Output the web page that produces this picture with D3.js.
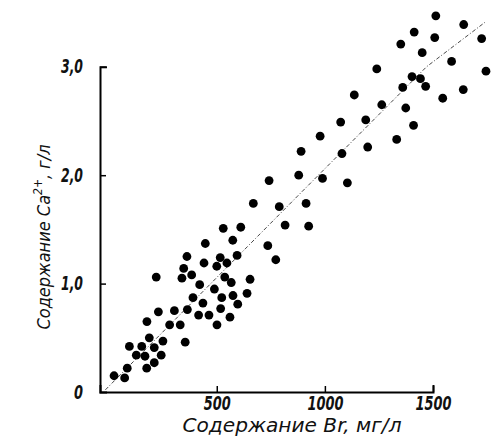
<!DOCTYPE html>
<html>
<head>
<meta charset="utf-8">
<script src="https://cdn.jsdelivr.net/npm/d3@7"></script>
<style>
  html, body { margin: 0; padding: 0; background: #fff; }
  svg { display: block; }
  .num { font-family: "DejaVu Sans Condensed", "DejaVu Sans", sans-serif; font-style: italic; font-weight: bold; font-size: 19px; fill: #111; }
  .ttl { font-family: "DejaVu Sans Condensed", "DejaVu Sans", sans-serif; font-style: italic; font-size: 19px; fill: #111; }
</style>
</head>
<body>
<div id="chart"></div>
<script>
// Bromide content, mg/l
const brValues = [669,789,816,530,611,574,447,736,362,594,516,773,441,500,547,347,220,339,384,537,
  567,654,421,489,640,390,575,523,436,597,230,304,364,518,416,464,561,177,282,331,
  501,188,251,354,96,153,211,128,168,243,211,176,86,25,74,742,913,925,879,989,
  1104,890,1079,1198,978,1073,1189,1332,1410,1136,1263,1374,1545,1640,1360,1403,1442,1466,1240,1745,
  1586,1450,1351,1508,1725,1413,1642,1513];
// Calcium content, g/l
const caValues = [1.74,1.71,1.54,1.51,1.52,1.40,1.37,1.35,1.25,1.26,1.24,1.22,1.19,1.16,1.19,1.14,1.06,1.05,1.08,1.06,
  1.01,1.04,0.99,0.95,0.91,0.87,0.89,0.87,0.82,0.81,0.74,0.75,0.76,0.77,0.71,0.71,0.69,0.65,0.62,0.62,
  0.62,0.50,0.47,0.46,0.42,0.42,0.41,0.34,0.33,0.34,0.27,0.22,0.22,0.15,0.13,1.95,1.74,1.53,2.00,1.97,
  1.93,2.22,2.20,2.26,2.36,2.49,2.51,2.33,2.46,2.74,2.65,2.62,2.71,2.79,2.81,2.91,2.89,2.82,2.98,2.96,
  3.05,3.13,3.21,3.27,3.26,3.32,3.39,3.47];
// Hand-drawn trend line through the cloud
const trendBr = [-15, 870, 1150, 1470, 1740];
const trendCa = [0.02, 1.80, 2.36, 3.00, 3.41];
// Axis ticks
const xTickValues = [500, 1000, 1500];
const yTickValues = [0, 1, 2, 3];
const yTickLabels = ["0", "1,0", "2,0", "3,0"];

const W = 504, H = 445;
const svg = d3.select("#chart").append("svg").attr("width", W).attr("height", H);

const x = d3.scaleLinear().domain([-40, 1500]).range([100, 433]);
const y = d3.scaleLinear().domain([0, 3]).range([392, 66.8]);

// narrow drafting-style numerals: fit each label to a fixed width per character
const labelWidth = s => [...s].reduce((w, c) => w + (c === "," ? 4 : 9), 0);

// trend line
const trend = trendBr.map((b, i) => [b, trendCa[i]]);
svg.append("path")
  .attr("d", d3.line().x(d => x(d[0])).y(d => y(d[1]))(trend))
  .attr("fill", "none")
  .attr("stroke", "#333")
  .attr("stroke-width", 0.9)
  .attr("stroke-dasharray", "4,2,1,2");

// points
svg.append("g").selectAll("circle")
  .data(brValues.map((b, i) => [b, caValues[i]]))
  .join("circle")
  .attr("cx", d => x(d[0]))
  .attr("cy", d => y(d[1]))
  .attr("r", 4.4)
  .attr("fill", "#000");

// x axis
const gx = svg.append("g").attr("transform", "translate(0,392)")
  .call(d3.axisBottom(x).tickValues(xTickValues).tickSize(-6).tickSizeOuter(-7).tickPadding(5).tickFormat(d3.format("d")));
gx.select(".domain").attr("stroke", "#000").attr("stroke-width", 2);
gx.selectAll(".tick line").attr("stroke", "#000").attr("stroke-width", 1.5);
gx.selectAll(".tick text").attr("class", "num").attr("font-size", null).attr("font-family", null).attr("fill", null)
  .attr("textLength", function () { return labelWidth(this.textContent); })
  .attr("lengthAdjust", "spacingAndGlyphs");

// y axis
const gy = svg.append("g").attr("transform", "translate(100,0)")
  .call(d3.axisLeft(y).tickValues(yTickValues).tickSize(-6).tickSizeOuter(-7).tickPadding(17)
    .tickFormat((d, i) => yTickLabels[i]));
gy.select(".domain").attr("stroke", "#000").attr("stroke-width", 2);
gy.selectAll(".tick line").attr("stroke", "#000").attr("stroke-width", 1.5);
gy.selectAll(".tick text").attr("class", "num").attr("font-size", null).attr("font-family", null).attr("fill", null)
  .attr("textLength", function () { return labelWidth(this.textContent); })
  .attr("lengthAdjust", "spacingAndGlyphs");
svg.selectAll(".tick").filter(d => d === 0).select("line").remove();

// axis titles
svg.append("text").attr("class", "ttl")
  .attr("x", 292).attr("y", 432).attr("text-anchor", "middle")
  .attr("textLength", 219).attr("lengthAdjust", "spacingAndGlyphs")
  .text("Содержание Br, мг/л");

const yt = svg.append("text").attr("class", "ttl")
  .style("font-size", "18px")
  .attr("transform", "translate(50,237) rotate(-90)")
  .attr("text-anchor", "middle");
yt.append("tspan").text("Содержание Ca");
yt.append("tspan").attr("dy", -8).style("font-size", "12px").text("2+");
yt.append("tspan").attr("dy", 8).text(", г/л");
</script>
</body>
</html>
